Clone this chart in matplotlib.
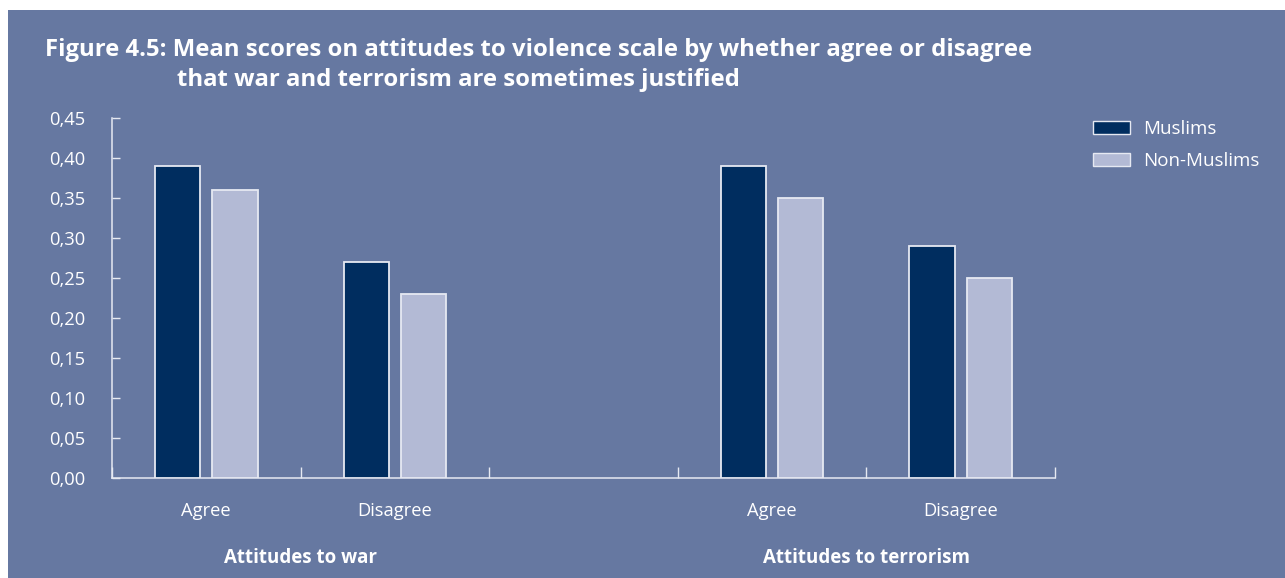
import matplotlib.pyplot as plt
from matplotlib.patches import Rectangle, Patch
import numpy as np

# data
groups = ['Attitudes to war', 'Attitudes to terrorism']
answers = ['Agree', 'Disagree']
muslims = [[0.39, 0.27], [0.39, 0.29]]
non_muslims = [[0.36, 0.23], [0.35, 0.25]]
series_names = ['Muslims', 'Non-Muslims']
yticks = [0.00, 0.05, 0.10, 0.15, 0.20, 0.25, 0.30, 0.35, 0.40, 0.45]

bg = '#6678A1'
navy = '#002D5F'
lilac = '#B3BAD5'
fg = 'white'
edge = '#E6E9F2'
plt.rcParams['font.family'] = ['Open Sans', 'DejaVu Sans']

fig = plt.figure(figsize=(12.85, 5.78), dpi=100)
fig.patch.set_facecolor('white')
fig.patches.append(Rectangle((8 / 1285, 0), 1, 1 - 10 / 578, transform=fig.transFigure,
                             facecolor=bg, edgecolor='none', zorder=-10))

ax = fig.add_axes([112 / 1285, 100 / 578, 943 / 1285, 360 / 578])
ax.set_facecolor('none')

# each group takes len(answers) slots, with an empty slot between groups
slot_pos = []
pos = 0
for g in range(len(groups)):
    slot_pos.append([pos + i for i in range(len(answers))])
    pos += len(answers) + 1
n_slots = pos - 1

w = 0.24
off = 0.152
for g in range(len(groups)):
    x = np.array(slot_pos[g])
    ax.bar(x - off, muslims[g], w, color=navy, edgecolor=edge, linewidth=1.3, zorder=3)
    ax.bar(x + off, non_muslims[g], w, color=lilac, edgecolor=edge, linewidth=1.3, zorder=3)
    for xi, lab in zip(x, answers):
        ax.text(xi, -0.041, lab, ha='center', va='center', color=fg, fontsize=13.2,
                clip_on=False)
    ax.text(np.mean(x), -0.1, groups[g], ha='center', va='center', color=fg,
            fontsize=13.5, fontweight='bold', clip_on=False)

ax.set_xlim(-0.5, n_slots - 0.5)
ax.set_ylim(0, 0.45)
ax.set_xticks(np.arange(-0.5, n_slots, 1.0))
ax.set_xticklabels([])
ax.set_yticks(yticks)
ax.set_yticklabels([f'{v:.2f}'.replace('.', ',') for v in yticks])

for s in ['top', 'right']:
    ax.spines[s].set_visible(False)
for s in ['left', 'bottom']:
    ax.spines[s].set_color(edge)
    ax.spines[s].set_linewidth(1.1)
ax.tick_params(axis='x', direction='in', length=8, width=1, color=edge)
ax.tick_params(axis='y', direction='in', length=6, width=1, color=edge,
               labelcolor=fg, labelsize=13.2, pad=19)

handles = [Patch(facecolor=navy, edgecolor=edge, linewidth=1),
           Patch(facecolor=lilac, edgecolor=edge, linewidth=1)]
leg = fig.legend(handles, series_names, loc='upper left',
                 bbox_to_anchor=(1076 / 1285, 1 - 103 / 578), frameon=False,
                 fontsize=13.5, labelcolor=fg, handlelength=2.0, handleheight=0.7,
                 labelspacing=0.75, handletextpad=0.7)

fig.text(45 / 1285, 1 - 50 / 578,
         'Figure 4.5: Mean scores on attitudes to violence scale by whether agree or disagree',
         color=fg, fontsize=17.2, fontweight='bold', ha='left', va='center')
fig.text(177 / 1285, 1 - 80 / 578, 'that war and terrorism are sometimes justified',
         color=fg, fontsize=17.2, fontweight='bold', ha='left', va='center')

fig.savefig('out.png', dpi=100, facecolor=fig.get_facecolor())
